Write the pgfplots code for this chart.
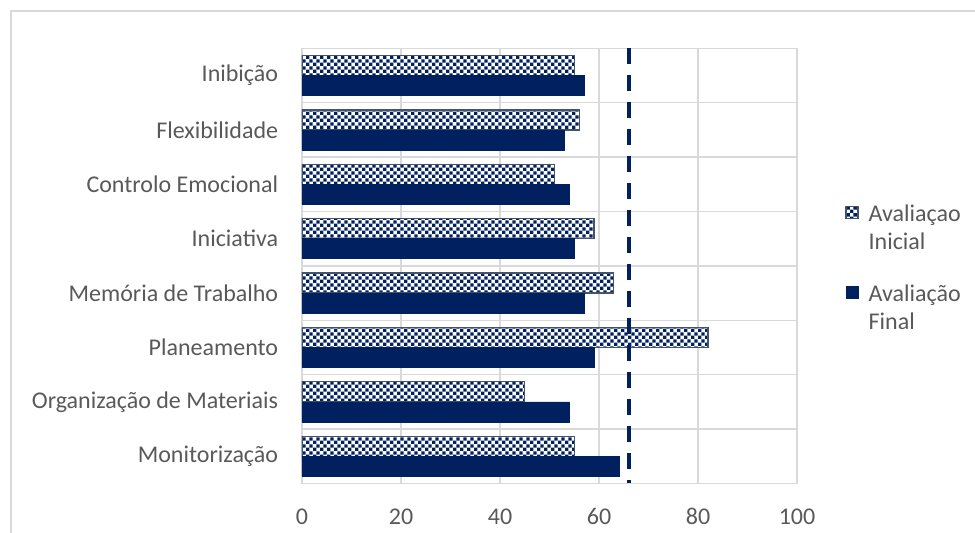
\documentclass[border=0pt]{standalone}
\usepackage{fontspec}
\setmainfont{Carlito}
\usepackage{pgfplots}
\pgfplotsset{compat=1.18}
\usetikzlibrary{patterns.meta}
\definecolor{navy}{HTML}{002060}
\definecolor{gridgray}{HTML}{D9D9D9}
\definecolor{txtgray}{HTML}{595959}
\definecolor{edgeblue}{HTML}{44546A}
\tikzdeclarepattern{
  name=smallcheck,
  type=uncolored,
  bounding box={(0pt,0pt) and (3.4pt,3.4pt)},
  tile size={(3.4pt,3.4pt)},
  code={
    \fill (0pt,0pt) rectangle (1.7pt,1.7pt);
    \fill (1.7pt,1.7pt) rectangle (3.4pt,3.4pt);
  }
}
\pgfplotsset{squarelegend/.style={legend image code/.code={\draw[##1] (0pt,5pt) rectangle (6pt,11pt);}}}
\begin{document}
\begin{tikzpicture}
\draw[gridgray, line width=0.7pt] (5.5pt,-5pt) -- (5.5pt,260.5pt) -- (495pt,260.5pt);
\begin{axis}[
  at={(151pt,24.3pt)}, anchor=south west,
  scale only axis, width=247.5pt, height=217.5pt,
  xmin=0, xmax=100, ymin=-0.5, ymax=7.5,
  xtick={0,20,...,100},
  ytick={0,...,7},
  yticklabels={Monitorização, Organização de Materiais, Planeamento, Memória de Trabalho, Iniciativa, Controlo Emocional, Flexibilidade, Inibição},
  minor ytick={0.5,1.5,...,6.5},
  xmajorgrids, yminorgrids,
  grid style={gridgray, line width=0.7pt},
  axis line style={gridgray, line width=0.7pt},
  major tick length=0pt, minor tick length=0pt,
  tick label style={font=\fontsize{12}{14}\selectfont, text=txtgray},
  xticklabel style={yshift=-9pt},
  yticklabel style={xshift=-8.4pt},
  /pgf/number format/assume math mode=true,
  legend style={at={(axis description cs:1.085,0.66)}, anchor=north west, draw=none, fill=none,
    font=\fontsize{12}{14}\selectfont, text=txtgray, cells={align=left}, row sep=12pt,
    /tikz/every odd column/.append style={column sep=3pt}},
  legend cell align=left,
]
\addplot[xbar, bar width=10pt, bar shift=5pt, fill=white, draw=edgeblue, line width=0.6pt,
  postaction={pattern=smallcheck, pattern color=navy}, squarelegend]
  coordinates {(55,0) (45,1) (82,2) (63,3) (59,4) (51,5) (56,6) (55,7)};
\addlegendentry{Avaliaçao\\Inicial}
\addplot[xbar, bar width=10pt, bar shift=-5pt, fill=navy, draw=navy, line width=0.3pt, squarelegend]
  coordinates {(64,0) (54,1) (59,2) (57,3) (55,4) (54,5) (53,6) (57,7)};
\addlegendentry{Avaliação\\Final}
\addplot[navy, line width=2pt, dash pattern=on 8pt off 5.5pt, forget plot]
  coordinates {(66,7.5) (66,-0.5)};
\end{axis}
\pgfresetboundingbox
\useasboundingbox (0pt,0pt) rectangle (487.5pt,266pt);
\end{tikzpicture}
\end{document}
